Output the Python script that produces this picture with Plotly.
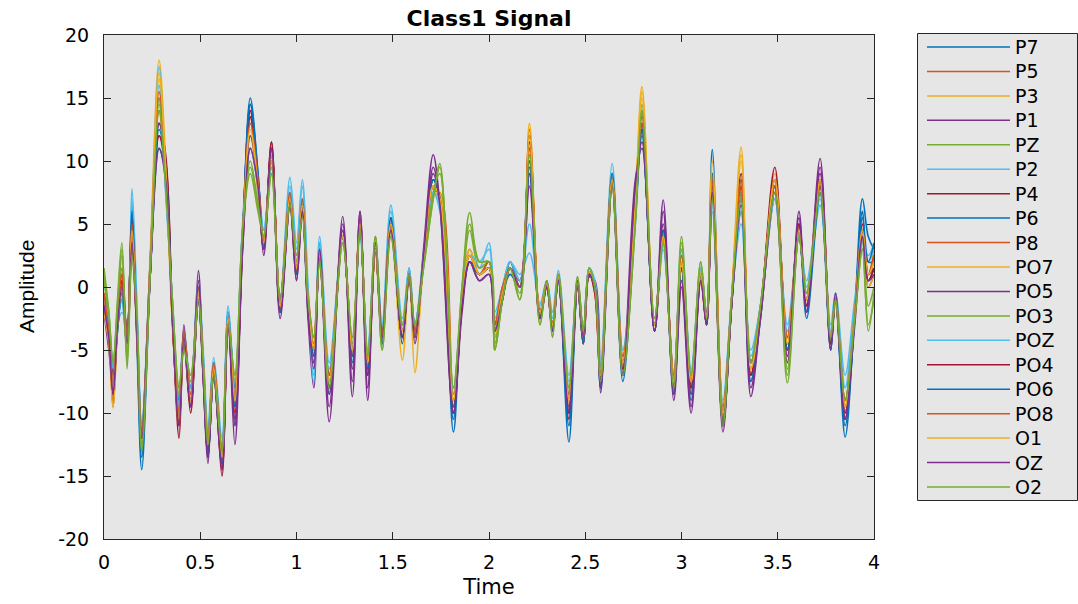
import plotly.graph_objects as go

# knot times (s)
t = [0.000, 0.025, 0.047, 0.070, 0.093, 0.120, 0.145, 0.170, 0.196, 0.240,
     0.286, 0.320, 0.355, 0.390, 0.415, 0.450, 0.490, 0.515, 0.540, 0.570,
     0.613, 0.645, 0.680, 0.720, 0.760, 0.800, 0.830, 0.870, 0.915, 0.966,
     1.000, 1.030, 1.060, 1.090, 1.120, 1.170, 1.240, 1.290, 1.330, 1.370,
     1.410, 1.445, 1.490, 1.550, 1.585, 1.615, 1.660, 1.710, 1.745, 1.815,
     1.860, 1.900, 1.950, 2.000, 2.030, 2.070, 2.110, 2.160, 2.210, 2.265,
     2.300, 2.330, 2.360, 2.415, 2.460, 2.490, 2.520, 2.550, 2.580, 2.640,
     2.695, 2.760, 2.795, 2.860, 2.905, 2.960, 3.000, 3.050, 3.100, 3.130,
     3.160, 3.215, 3.260, 3.310, 3.360, 3.410, 3.485, 3.550, 3.610, 3.650,
     3.720, 3.775, 3.800, 3.850, 3.900, 3.940, 3.970, 4.000]

channels = ["P7", "P5", "P3", "P1", "PZ", "P2", "P4", "P6", "P8", "PO7",
            "PO5", "PO3", "POZ", "PO4", "PO6", "PO8", "O1", "OZ", "O2"]

P7 = [-2, -4, -8.5, -3, -1, -5, 6.5, -4, -14.5, 1,
      13, 10, -2, -11, -4.5, -9.5, -1, -7, -13.5, -7,
      -14, -2, -11, 4, 15, 9, 3, 11, -2, 7.5,
      1, 7, -2, -6, 3, -8.5, 4.5, -6, 5, -7,
      3, -4.5, 5.5, -4.5, 1, -4, 2, 8.5, 7, -10.5,
      -1, 2, 1, 2, -4, -1, 2, 0, 11, -2.5,
      0.5, -3.5, 0.8, -12.3, 0, -4.5, 1.5, 0, -8, 9,
      -7.5, 6, 14, -3, 4.5, -8.5, 1.5, -8.5, 1, -3,
      10.9, -11, -1.2, 8.5, -7.5, -2, 8.5, -5, 5, -2,
      8.5, -4.5, -1, -11.9, -2, 7, 4, 3]
P5 = [-0.5, -3, -7, -2.5, 0.5, -4.5, 4, -2.5, -11.5, 2,
      15, 9, -1.5, -9.5, -4, -8, -0.5, -5.5, -12, -6,
      -13, -3, -8.5, 4.5, 14, 8, 4, 10, -1, 7,
      2, 6.5, -0.5, -4, 2.5, -7, 4, -4.5, 5, -5.5,
      3.5, -3.5, 5, -3, 1, -3, 2, 7.5, 7.5, -8.5,
      -1, 3, 1, 1.5, -3, 0, 1.5, 0.5, 12.5, -2,
      0.3, -3, 1, -9, 0.5, -4, 1.2, 0, -6.5, 9,
      -5.5, 6.5, 13, -3, 4, -7, 2.5, -7, 1.5, -2,
      8, -10, -1, 8, -6, -2, 8, -4, 4.5, -1,
      8, -4, -1, -9, -2, 4, 1, 1.5]
P3 = [-1.5, -4, -9, -3, 0.3, -4.5, 5, -3.5, -12.5, 2.5,
      18, 10, -3, -10, -4, -9, -1, -6.5, -13, -7,
      -13.5, -2.5, -9, 4, 13, 8, 3.5, 11, -1.5, 7,
      2, 6.5, -1.5, -5, 2.5, -8, 4, -5, 5, -6,
      3, -4, 4.5, -5.8, 1, -6.8, 2, 7.5, 7, -9,
      -1, 2, 1, 1.5, -5, -1, 1, 0, 13, -2,
      0, -3, 0.8, -9, 0.3, -4, 1, 0, -7, 8.5,
      -6.5, 7, 15.9, -3, 4, -7.5, 2, -8, 1, -2.5,
      9, -10.5, -1, 11.1, -7, -2, 9, -5, 5, -0.5,
      8.5, -4, -1, -9.5, -2, 4.5, 1, 3]
P1 = [-2, -5, -8, -2.5, 0, -5, 3, -3, -11, 1,
      12, 9, -2.5, -11, -3, -9.5, 1.3, -7, -14, -6.5,
      -14, -2.5, -12.5, 3, 11, 8, 3, 11.5, -2, 6.5,
      0.5, 6, -2.5, -8, 3.5, -10.7, 5.6, -8.7, 6, -9,
      4, -3.5, 4.5, -4, 1.5, -4.5, 3, 10.5, 6.5, -10,
      -2, 2, 0.5, 1, -3.5, -1, 2, 0.5, 9, -2.5,
      0, -3.5, 0.5, -10, 0.5, -4, 0.8, 0.5, -8.4, 8,
      -6.5, 8.5, 11, -3.5, 6.9, -9, 0, -10, 1, -3,
      7, -11.5, -1.5, 6, -8.7, -2.5, 7, -6, 6, -2,
      10.2, -5, -0.5, -10, -3, 4, 0, 1]
PZ = [1.5, -2, -6.5, -1, 3.5, -6.5, 2, -2, -13, 1,
      15, 8, -1, -8, -5, -7, -1, -6, -12.5, -7,
      -13, -3, -7, 4.5, 9, 6, 4, 9, -1, 6.5,
      2.5, 6, -1, -4, 2, -8, 3.5, -4, 4.5, -5.5,
      4, -5, 4, -3, 1, -3, 1.5, 7, 9.8, -8,
      0, 5.9, 2, 2, -5, -1, 1.5, -1, 11, -3,
      0.5, -4, 1, -8, 0.8, -3.5, 1.5, 0, -7.5, 8,
      -7, 5, 14.5, -2.5, 3.5, -8, 4, -7, 2, -2.5,
      7, -11, -1, 7, -6, -1.5, 7.5, -7.6, 4, -0.5,
      7.5, -4, -1, -9, -2.5, 3, -3, -1]
P2 = [-1, -3, -6, -3, -2, -3, 7.8, -1, -11, 2,
      17.5, 7.5, -1, -9, -4, -8, 0, -5, -11, -5.6,
      -12, -1.5, -8, 5, 12, 8.5, 4.5, 10, -1, 8.7,
      3.5, 8.5, 0, -7.6, 4, -6, 4, -5, 4, -5,
      3, -3, 6.5, -2.5, 1.5, -3, 2, 7.5, 6, -8,
      -1, 2.5, 1.5, 3.5, -2, 0, 2, 1, 2.7, -1.3,
      0.5, -2, 1.3, -7, 0.5, -3.5, 1.5, 0.5, -6, 9.8,
      -5, 5, 13, -3, 3, -7, 3, -6.5, 1.5, -2,
      6, -9, -1, 5, -5, -1.5, 7, -3, 4, 0,
      6.5, -3, -0.5, -7, -1, 3, 2, 3]
P4 = [-1, -3.5, -9.5, -3, 1, -4, 5, -3, -12, 1,
      13, 10.5, -2, -12, -4, -10, -1, -6.5, -13, -6.5,
      -15, -2.5, -10, 4, 14, 8, 3, 11, -1.5, 7,
      1, 6.5, -1, -5, 2, -8, 4, -5.5, 5, -7,
      3, -4, 5.5, -4, 0.5, -3.5, 2, 8, 7, -9.5,
      -1, 2.5, 1, 1.5, -3, -0.5, 1.5, 0, 11.5, -2,
      0, -3, 0.8, -10.5, 0, -4.5, 1.2, -0.5, -7.5, 9,
      -6, 6, 13, -3.5, 4, -7.5, 2, -8, 0.5, -2.5,
      9, -10.5, -1.5, 8, -7, -2, 9.5, -5, 4, -1,
      8, -4, -1, -10, -2, 5, 1, 2.5]
P6 = [-0.5, -3, -6.5, -3.5, 0, -3.5, 4, -3, -12, 1,
      11, 9, -2, -9, -3.5, -8, 0, -6, -12, -6,
      -13, -2, -8, 4, 14.5, 9, 3.5, 10, -1, 7,
      1.5, 6, -1, -5, 2, -7, 4, -5, 5, -6,
      3, -4, 5, -4, 1, -3.5, 2, 8, 7, -11.5,
      -1, 2, 1, 1.5, -3.5, -0.5, 1, 0, 9, -2,
      0.3, -3, 0.8, -10, 0.3, -4, 1, 0, -7, 8.5,
      -7, 6, 12, -3, 4, -7.5, 2, -8, 1, -2.5,
      8, -10, -1, 7.5, -6, -2, 8, -4, 4, -1,
      8, -4.5, -1, -10.5, -2, 6, 2, 2]
P8 = [-1, -4, -8, -2.5, 1.5, -4, 4.5, -2.5, -12, 1.5,
      14, 9, -1.5, -10, -4, -8.5, -0.5, -6, -12.5, -6.5,
      -13.5, -3, -9, 3.5, 13.5, 7.5, 3.5, 10.5, -1.5, 7,
      1.5, 6.5, -1, -4.5, 2.5, -7.5, 4, -5, 5, -6,
      3, -4, 5, -3.5, 1, -3.5, 2, 8, 7, -9,
      -1, 2.5, 1, 1.5, -3, -0.5, 1.5, 0, 10, -2,
      0.3, -3, 0.8, -9, 0.3, -4, 1.2, 0, -7, 8.5,
      -6, 6, 13, -3, 4, -7.5, 2, -7.5, 1, -2.5,
      8, -10, -1.2, 8, -6.5, -2, 8, -4.5, 4.5, -1,
      8, -4, -1, -9.5, -2, 4.5, 1, 2]
PO7 = [-2, -4.5, -9.6, -3.5, 0.5, -5, 4, -3.5, -12.5, 1.5,
       16.5, 9, -2.5, -11, -4.5, -9, -1, -6.5, -13, -7,
       -14, -3, -9.5, 4, 12, 7.5, 3, 10, -2, 6.5,
       1, 6, -1.5, -5.5, 2.5, -8, 4, -5.5, 5.5, -6.5,
       2.5, -4.5, 5, -4, 1, -4, 2, 8, 7.5, -9.5,
       -1, 3, 1, 1.5, -4, -0.5, 1.5, 0, 10.5, -2.5,
       0, -3.5, 0.5, -9.5, 0, -4.5, 1, -0.5, -7.5, 9,
       -6.5, 6.5, 15, -3, 4, -8, 2, -8.5, 0.5, -3,
       9, -10.5, -1.5, 10, -7, -2.5, 8.5, -5.5, 4.5, -1,
       8.5, -4.5, -1.5, -10, -2.5, 4, 0, 1]
PO5 = [-1.5, -3, -7, -3, 0.5, -4, 4, -3, -11.5, 1.5,
       13, 9.5, -2, -10.5, -4, -9, 0, -6, -13, -6.5,
       -14, -2.5, -9.5, 3.5, 12, 8.5, 3.5, 11, -2, 6.5,
       1, 6, -1.5, -6, 2.5, -8.5, 4.5, -6.5, 5.5, -7,
       3, -4, 5, -3.5, 1, -4, 2.5, 9, 6.5, -9.5,
       -1, 2, 1, 1.5, -3, -0.5, 1.5, 0, 9.5, -2,
       0, -3.5, 0.8, -9.5, 0.3, -4, 1, 0, -7.5, 8.5,
       -6.5, 7, 12.5, -3, 5, -8, 1.5, -8.5, 1, -3,
       7.5, -10.5, -1.2, 7.5, -7, -2, 8, -5, 5, -1.5,
       9, -4.5, -1, -10, -2, 4, 0.5, 1.5]
PO3 = [0.5, -2.5, -6, -2, 2.5, -5.5, 3, -2.5, -12.5, 1.5,
       14.5, 8.5, -1.5, -8.5, -4.5, -7.5, -1, -6, -12.5, -7,
       -13, -3, -7.5, 4.5, 10, 6.5, 4, 9.5, -1, 6.5,
       2, 6, -1, -4.5, 2, -7.5, 3.5, -4.5, 4.5, -5.5,
       3.5, -4.5, 4.5, -3, 1, -3, 2, 7.5, 9, -8.5,
       -0.5, 4.5, 1.5, 2, -4.5, -1, 1.5, -0.5, 10.5, -2.5,
       0.5, -3.5, 1, -8.5, 0.5, -3.5, 1.5, 0, -7, 8.5,
       -6.5, 5.5, 14, -2.5, 3.5, -7.5, 3, -7.5, 1.5, -2.5,
       7.5, -10.5, -1, 7.5, -6, -1.5, 7.5, -6.5, 4, -0.5,
       7.5, -4.5, -1, -9, -2.5, 3.5, -1.5, 0]
POZ = [-1, -2.5, -6.5, -3, -1, -3.5, 7, -1.5, -11, 2,
       16, 8, -1, -9.5, -4, -8, 0.5, -5.5, -11.5, -6,
       -12.5, -2, -8.5, 4.5, 11, 8, 4.5, 9.5, -1, 8,
       3, 8, -0.5, -7, 3.5, -6.5, 4, -5, 4.5, -5,
       3.5, -3, 6, -3, 1.5, -3, 2.5, 7.5, 6.5, -8.5,
       -1, 2.5, 2, 3, -2.5, 0, 2, 0.5, 5, -1.5,
       0.5, -2.5, 1, -7.5, 0.5, -3.5, 1.5, 0.3, -6.5, 9,
       -5, 5.5, 12.5, -3, 3.5, -7, 3, -7, 1.5, -2,
       6.5, -9.5, -1, 6, -5.5, -1.5, 7, -3.5, 4, 0.5,
       7, -3.5, -0.5, -8, -1.5, 3.5, 2.5, 3.5]
PO4 = [-1.5, -4, -8.5, -3, 0.5, -4, 5.5, -3.5, -12, 1,
       12, 10, -2.5, -11, -4, -9.5, -1, -7, -13.5, -7,
       -14.5, -3, -10.5, 3.5, 13.5, 8.5, 3, 11.5, -2, 7,
       1, 6.5, -1.5, -5.5, 2.5, -8, 4, -5.5, 5, -6.5,
       3, -4, 5, -4, 1, -4, 2, 8.5, 7, -10,
       -1.5, 2, 1, 1.5, -3.5, -0.5, 1.5, 0, 12, -2.5,
       0, -3, 0.5, -10, 0, -4.5, 1, -0.5, -7.5, 8.5,
       -6.5, 6, 12.5, -3.5, 4.5, -8, 1.5, -8, 0.5, -3,
       8.5, -11, -1.5, 9, -7, -2, 8.5, -5, 5, -1.5,
       8.5, -4.5, -1, -10.5, -2.5, 4.5, 0.5, 1.5]
PO6 = [-1.5, -3.5, -8, -3.5, -0.5, -4, 6, -3, -13.5, 1,
       12.5, 9.5, -2, -10.5, -4, -9, -1, -6.5, -13.5, -7,
       -14, -2.5, -9.5, 4, 14.5, 8.5, 3, 10.5, -2, 7,
       1, 6.5, -1.5, -5.5, 2.5, -8, 4, -5.5, 5, -6.5,
       3, -4.5, 5.5, -4, 1, -4, 2, 8.5, 7, -10,
       -1, 2, 1, 1.5, -3.5, -1, 1.5, 0, 10, -2.5,
       0.3, -3.5, 0.5, -11, 0, -4.5, 1, 0, -8, 9,
       -7, 5.5, 12.5, -3.5, 4.5, -8.5, 1.5, -9, 1, -3,
       9, -11, -1.5, 7, -7.5, -2.5, 8, -5, 4.5, -2.5,
       7.5, -5, -1, -11, -2.5, 5.5, 2, 3.5]
PO8 = [-0.5, -3.5, -7.5, -3, 1, -4, 5, -3, -11.5, 2,
       15.5, 9.5, -2, -10, -3.5, -8.5, 0, -6, -12, -6,
       -13, -2.5, -8.5, 4, 13, 8.5, 3.5, 10.5, -1, 7.5,
       1.5, 7, -1, -5, 2.5, -7, 4, -5, 5, -6,
       3, -4, 5, -3.5, 1, -3.5, 2, 8, 7, -9,
       -1, 2.5, 1, 2, -3, 0, 1.5, 0, 11, -2,
       0.5, -3, 1, -8.5, 0.5, -4, 1.2, 0, -7, 8.5,
       -5.5, 6, 13.5, -3, 4, -7, 2.5, -7.5, 1, -2,
       8.5, -9.5, -1, 8.5, -6, -2, 8, -4, 4.5, -1,
       8.5, -4, -1, -9, -2, 4.5, 1, 2.5]
O1 = [-1.5, -4, -8, -3, 0, -4.5, 4.5, -3, -12, 1.5,
      17, 9.5, -2, -10.5, -4, -9, -0.5, -6, -12.5, -6.5,
      -13.5, -2.5, -9, 4, 12.5, 8, 3.5, 10.5, -1.5, 7,
      1.5, 6.5, -1, -5, 2.5, -7.5, 4, -5, 5, -6,
      3, -4, 5, -3.5, 1, -4, 2, 8, 7, -9,
      -1, 2.5, 1, 1.5, -3.5, -0.5, 1.5, 0, 12, -2,
      0.3, -3, 0.8, -9, 0.3, -4, 1.2, 0, -7, 8.5,
      -6, 6.5, 15.5, -3, 4, -7.5, 2, -7.5, 1, -2.5,
      10, -10, -1, 10.5, -6.5, -2, 8.5, -4.5, 4.5, -1,
      8.5, -4, -1, -9.5, -2, 4.5, 1, 2]
OZ = [-1.5, -4, -8.5, -3, 0, -4.5, 3.5, -3.5, -12, 1,
      11, 8.5, -2.5, -11, -4, -9.5, 0.5, -7, -13.5, -7,
      -14.5, -3, -11, 3, 11, 8, 2.5, 11, -2.5, 6.5,
      0.5, 6, -2, -6.5, 3, -9.5, 5, -7.5, 6, -8,
      3.5, -4, 4.5, -4, 1, -4, 2.5, 9.5, 6.5, -10,
      -1.5, 2, 0.5, 1, -3.5, -1, 1.5, 0, 8, -2.5,
      0, -3.5, 0.5, -10, 0.5, -4, 1, 0, -8, 8,
      -7, 8, 11.5, -3.5, 6, -8.5, 0.5, -9.5, 0.5, -3,
      7.5, -11, -1.5, 6.5, -8, -2.5, 7.5, -5.5, 5.5, -2,
      9.5, -5, -0.5, -10.5, -2.5, 4, 0.5, 1]
O2 = [1, -2, -6, -1.5, 3, -6, 2.5, -2, -13, 1,
      14, 8, -1, -8, -5, -7, -1, -6, -12.5, -7,
      -13, -3, -7, 4.5, 9.5, 6.5, 4, 9, -1, 6.5,
      2.5, 5.5, -1, -4, 2, -8, 3.5, -4, 4.5, -5.5,
      4, -5, 4, -3, 1, -3, 1.5, 7, 9.5, -8,
      0, 5, 2, 2, -5, -1, 1.5, -1, 10.5, -3,
      0.5, -4, 1, -8, 0.8, -3.5, 1.5, 0, -7.5, 8,
      -7, 5, 14, -2.5, 3.5, -8, 3.5, -7, 2, -2.5,
      7, -11, -1, 7, -6, -1.5, 7.5, -7, 4, -0.5,
      7.5, -4, -1, -9, -2.5, 3, -3.5, -0.5]

series = [P7, P5, P3, P1, PZ, P2, P4, P6, P8, PO7,
          PO5, PO3, POZ, PO4, PO6, PO8, O1, OZ, O2]
for nm, s in zip(channels, series):
    assert len(s) == len(t), (nm, len(s), len(t))

x_ticks = [0, 0.5, 1, 1.5, 2, 2.5, 3, 3.5, 4]
x_tick_text = ["0", "0.5", "1", "1.5", "2", "2.5", "3", "3.5", "4"]
y_ticks = [-20, -15, -10, -5, 0, 5, 10, 15, 20]
y_tick_text = ["-20", "-15", "-10", "-5", "0", "5", "10", "15", "20"]

palette = ["#0072BD", "#D95319", "#EDB120", "#7E2F8E",
           "#77AC30", "#4DBEEE", "#A2142F"]

W, H = 1078, 604
L, R, T, B = 104, 874, 35, 539
FONT = "DejaVu Sans, Liberation Sans, Arial, sans-serif"
AX = "#262626"
BG = "#E6E6E6"

fig = go.Figure()
for i, (nm, s) in enumerate(zip(channels, series)):
    fig.add_trace(go.Scatter(
        x=t, y=s, mode="lines", name=nm, showlegend=False,
        line=dict(color=palette[i % 7], width=1.6, shape="spline", smoothing=1.0),
    ))

def px_x(px):
    return (px - L) / (R - L)

def px_y(py):
    return (B - py) / (B - T)

shapes = []
annotations = []
# legend box (drawn manually to match MATLAB legend)
shapes.append(dict(type="rect", xref="paper", yref="paper",
                   x0=px_x(917.5), x1=px_x(1077.5), y0=px_y(500.5), y1=px_y(33.5),
                   fillcolor=BG, line=dict(color=AX, width=1), layer="below"))
step = (487 - 47) / 18
for i, nm in enumerate(channels):
    yy = 47 + i * step
    shapes.append(dict(type="line", xref="paper", yref="paper",
                       x0=px_x(927), x1=px_x(1010), y0=px_y(yy), y1=px_y(yy),
                       line=dict(color=palette[i % 7], width=1.5)))
    annotations.append(dict(xref="paper", yref="paper", x=px_x(1013), y=px_y(yy),
                            text=nm, showarrow=False, xanchor="left", yanchor="middle",
                            font=dict(family=FONT, size=19, color="#000000")))

annotations.append(dict(xref="paper", yref="paper", x=px_x(26), y=px_y(287),
                        text="Amplitude", textangle=-90, showarrow=False,
                        xanchor="center", yanchor="middle",
                        font=dict(family="Liberation Sans Narrow, Arial Narrow, Liberation Sans, Arial",
                                  size=21, color="#000000")))

fig.update_layout(
    width=W, height=H,
    margin=dict(l=L, r=W - R, t=T, b=H - B, autoexpand=False),
    paper_bgcolor="white", plot_bgcolor=BG,
    font=dict(family=FONT, color=AX),
    title=dict(text="<b>Class1 Signal</b>", x=0.5, xref="paper",
               y=1 - 18 / H, yref="container", xanchor="center", yanchor="middle",
               font=dict(family=FONT, size=22, color="#000000")),
    shapes=shapes, annotations=annotations,
    xaxis=dict(range=[0, 4], tickvals=x_ticks, ticktext=x_tick_text,
               ticks="inside", ticklen=7, tickcolor=AX, tickwidth=1,
               showline=True, linecolor=AX, linewidth=1, mirror="allticks",
               showgrid=False, zeroline=False,
               tickfont=dict(family=FONT, size=19, color="#000000"),
               ticklabelstandoff=6,
               title=dict(text="Time", standoff=7,
                          font=dict(family=FONT, size=21, color="#000000"))),
    yaxis=dict(range=[-20, 20], tickvals=y_ticks, ticktext=y_tick_text,
               ticks="inside", ticklen=7, tickcolor=AX, tickwidth=1,
               showline=True, linecolor=AX, linewidth=1, mirror="allticks",
               showgrid=False, zeroline=False,
               tickfont=dict(family=FONT, size=19, color="#000000"),
               ticklabelstandoff=10),
)

fig.write_html("out.html")
